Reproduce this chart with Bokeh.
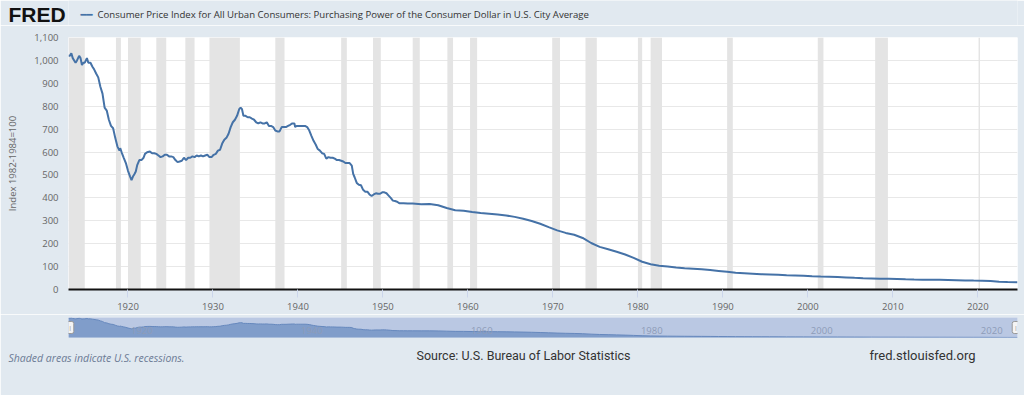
from bokeh.plotting import figure
from bokeh.models import Range1d, FixedTicker, NumeralTickFormatter, Label
from bokeh.layouts import column
from bokeh.embed import file_html
from bokeh.resources import INLINE
from bokeh.core.properties import value

# ---------------- data ----------------
TITLE = ("Consumer Price Index for All Urban Consumers: Purchasing Power of the "
         "Consumer Dollar in U.S. City Average")
Y_LABEL = "Index 1982-1984=100"
SOURCE = "Source: U.S. Bureau of Labor Statistics"
SITE = "fred.stlouisfed.org"
NOTE = "Shaded areas indicate U.S. recessions."
LOGO = "FRED"

dates = [
    "1913-01", "1913-03", "1913-05", "1913-07", "1913-09", "1913-11",
    "1914-01", "1914-04", "1914-06", "1914-08", "1914-10", "1914-12",
    "1915-03", "1915-05", "1915-08", "1915-11",
    "1916-01", "1916-04", "1916-07", "1916-10",
    "1917-01", "1917-04", "1917-07", "1917-10",
    "1918-01", "1918-04", "1918-07", "1918-10",
    "1919-01", "1919-02", "1919-04", "1919-07", "1919-10",
    "1920-01", "1920-04", "1920-06", "1920-08", "1920-10", "1920-12",
    "1921-02", "1921-05", "1921-08", "1921-11",
    "1922-01", "1922-04", "1922-08", "1922-11",
    "1923-02", "1923-05", "1923-08", "1923-11",
    "1924-02", "1924-05", "1924-08", "1924-11",
    "1925-02", "1925-05", "1925-08", "1925-11",
    "1926-02", "1926-05", "1926-08", "1926-11",
    "1927-02", "1927-05", "1927-08", "1927-11",
    "1928-02", "1928-05", "1928-08", "1928-11",
    "1929-02", "1929-05", "1929-08", "1929-11",
    "1930-02", "1930-05", "1930-08", "1930-11",
    "1931-02", "1931-05", "1931-08", "1931-11",
    "1932-02", "1932-05", "1932-08", "1932-11",
    "1933-02", "1933-04", "1933-06", "1933-08", "1933-11",
    "1934-02", "1934-05", "1934-08", "1934-11",
    "1935-02", "1935-05", "1935-08", "1935-11",
    "1936-02", "1936-05", "1936-08", "1936-11",
    "1937-02", "1937-05", "1937-08", "1937-11",
    "1938-02", "1938-05", "1938-08", "1938-11",
    "1939-02", "1939-05", "1939-08", "1939-09", "1939-11",
    "1940-02", "1940-05", "1940-08", "1940-11",
    "1941-02", "1941-05", "1941-08", "1941-11",
    "1942-02", "1942-05", "1942-08", "1942-11",
    "1943-02", "1943-05", "1943-08", "1943-11",
    "1944-02", "1944-05", "1944-08", "1944-11",
    "1945-02", "1945-05", "1945-08", "1945-11",
    "1946-02", "1946-05", "1946-07", "1946-09", "1946-12",
    "1947-03", "1947-06", "1947-09", "1947-12",
    "1948-03", "1948-06", "1948-09", "1948-12",
    "1949-03", "1949-06", "1949-09", "1949-12",
    "1950-03", "1950-06", "1950-09", "1950-12",
    "1951-03", "1951-06", "1951-09", "1951-12",
    "1952-06", "1952-12",
    "1953-07", "1954-07", "1955-07", "1956-07", "1957-07", "1958-07", "1959-07",
    "1960-07", "1961-07", "1962-07", "1963-07", "1964-07", "1965-07", "1966-07",
    "1967-07", "1968-07", "1969-07", "1970-07", "1971-07", "1972-07", "1973-07",
    "1974-07", "1975-07", "1976-07", "1977-07", "1978-07", "1979-07", "1980-07",
    "1981-07", "1982-07", "1983-07", "1984-07", "1985-07", "1986-07", "1987-07",
    "1988-07", "1989-07", "1990-07", "1991-07", "1992-07", "1993-07", "1994-07",
    "1995-07", "1996-07", "1997-07", "1998-07", "1999-07", "2000-07", "2001-07",
    "2002-07", "2003-07", "2004-07", "2005-07", "2006-07", "2007-07", "2008-07",
    "2009-07", "2010-07", "2011-07", "2012-07", "2013-07", "2014-07", "2015-07",
    "2016-07", "2017-07", "2018-07", "2019-07", "2020-07", "2021-07", "2022-07",
    "2023-07", "2024-09",
]
values = [
    1020, 1020, 1031, 1010, 1000, 990,
    1000, 1020, 1010, 980, 990, 990,
    1010, 990, 990, 971,
    962, 943, 926, 885,
    855, 794, 781, 741,
    714, 704, 662, 625,
    606, 617, 599, 575, 552,
    518, 493, 478, 493, 503, 515,
    543, 565, 565, 575,
    592, 599, 602, 595,
    595, 592, 585, 578,
    581, 588, 588, 581,
    581, 578, 565, 556,
    559, 562, 575, 565,
    575, 575, 581, 578,
    585, 581, 585, 581,
    585, 588, 578, 578,
    588, 592, 606, 610,
    637, 654, 662, 680,
    709, 730, 741, 758,
    787, 794, 787, 758, 758,
    752, 752, 746, 741,
    730, 725, 730, 725,
    725, 730, 714, 714,
    709, 694, 690, 690,
    709, 709, 709, 714,
    719, 725, 725, 709, 714,
    714, 714, 714, 714,
    709, 694, 671, 649,
    633, 613, 606, 595,
    592, 571, 578, 575,
    575, 571, 565, 565,
    562, 559, 552, 552,
    552, 541, 505, 490, 465,
    457, 455, 435, 427,
    427, 415, 408, 415,
    420, 418, 418, 424,
    424, 420, 410, 400,
    388, 386, 383, 377,
    377, 375,
    375, 372, 373, 368, 356, 346, 344,
    338, 334, 331, 327, 323, 317, 309,
    299, 287, 272, 258, 247, 239, 225,
    203, 186, 176, 165, 153, 138, 121,
    110, 104, 100, 96, 93, 91, 88,
    85, 81, 77, 73, 71, 69, 67,
    66, 64, 62, 61, 60, 58, 56.5,
    55.6, 54.3, 52.9, 51.2, 49.6, 48.2, 46.4,
    46.6, 45.9, 44.5, 43.6, 42.9, 42.2, 42.2,
    41.7, 40.8, 39.8, 39.1, 38.6, 36.9, 34.2,
    32.8, 31.8,
]

rec_start = ["1913-01", "1918-08", "1920-01", "1923-05", "1926-10", "1929-08",
             "1937-05", "1945-02", "1948-11", "1953-07", "1957-08", "1960-04",
             "1969-12", "1973-11", "1980-01", "1981-07", "1990-07", "2001-03",
             "2007-12", "2020-02"]
rec_end = ["1914-12", "1919-03", "1921-07", "1924-07", "1927-11", "1933-03",
           "1938-06", "1945-10", "1949-10", "1954-05", "1958-04", "1961-02",
           "1970-11", "1975-03", "1980-07", "1982-11", "1991-03", "2001-11",
           "2009-06", "2020-04"]

x_ticks = [1920, 1930, 1940, 1950, 1960, 1970, 1980, 1990, 2000, 2010, 2020]
y_ticks = [0, 100, 200, 300, 400, 500, 600, 700, 800, 900, 1000, 1100]
nav_ticks = [1920, 1940, 1960, 1980, 2000, 2020]


def dec(s):
    y, m = s.split("-")
    return int(y) + (int(m) - 1) / 12.0


xs = [dec(d) for d in dates]
rs = [dec(d) for d in rec_start]
re_ = [dec(d) for d in rec_end]

# ---------------- style ----------------
BG = "#e1e9f0"
LINE = "#4572a7"
FONT = "Open Sans"
FOOT = "Roboto"
W = 1024
COMMON = dict(width=W, output_backend="svg", toolbar_location=None,
              min_border_left=68, min_border_right=7,
              border_fill_color=BG, outline_line_color=None)

xr = Range1d(xs[0], xs[-1])

# ---------------- header (logo + legend key) ----------------
p0 = figure(height=25, x_axis_location=None, y_axis_location=None,
            min_border_top=0, min_border_bottom=0,
            background_fill_color=BG, **COMMON)
p0.grid.visible = False
p0.add_layout(Label(x=-3, y=11.5, x_units="screen", y_units="screen",
                    text=LOGO, text_font="Liberation Sans",
                    text_font_style="bold", text_font_size="21px",
                    text_color="#111111", text_baseline="middle",
                    text_align="left"), "left")
p0.add_layout(Label(x=18, y=11, x_units="screen", y_units="screen",
                    text="\u2501\u2501", text_font="DejaVu Sans",
                    text_font_size="10px", text_color=LINE,
                    text_baseline="middle", text_align="center"))
p0.add_layout(Label(x=29, y=11, x_units="screen", y_units="screen",
                    text=TITLE, text_font=FONT, text_font_size="9.6px",
                    text_color="#333333", text_baseline="middle",
                    text_align="left"))

# ---------------- main chart ----------------
p = figure(height=289, x_range=xr, y_range=Range1d(0, 1100),
           min_border_top=12, min_border_bottom=25,
           background_fill_color="white", **COMMON)

p.quad(left=rs, right=re_, bottom=0, top=1100, fill_color="#e4e4e4",
       line_color=None)
p.line(xs, values, line_color=LINE, line_width=2)

p.xgrid.visible = False
p.ygrid.ticker = FixedTicker(ticks=y_ticks)
p.ygrid.grid_line_color = "#e8e8e8"

p.yaxis.ticker = FixedTicker(ticks=y_ticks)
p.yaxis.formatter = NumeralTickFormatter(format="0,0")
p.yaxis.axis_line_color = None
p.yaxis.major_tick_out = 0
p.yaxis.major_tick_in = 0
p.yaxis.minor_tick_line_color = None
p.yaxis.major_label_standoff = 10
p.yaxis.major_label_text_font = FONT
p.yaxis.major_label_text_font_size = "9.5px"
p.yaxis.major_label_text_color = "#666666"
p.yaxis.axis_label = Y_LABEL
p.yaxis.axis_label_standoff = 12
p.yaxis.axis_label_text_font = FONT
p.yaxis.axis_label_text_font_style = "normal"
p.yaxis.axis_label_text_font_size = "9.5px"
p.yaxis.axis_label_text_color = "#666666"

p.xaxis.ticker = FixedTicker(ticks=x_ticks)
p.xaxis.axis_line_color = "#111111"
p.xaxis.axis_line_width = 2
p.xaxis.major_tick_out = 8
p.xaxis.major_tick_in = 0
p.xaxis.major_tick_line_color = "#ccd6eb"
p.xaxis.minor_tick_line_color = None
p.xaxis.major_label_standoff = 5
p.xaxis.major_label_text_font = FONT
p.xaxis.major_label_text_font_size = "9.5px"
p.xaxis.major_label_text_color = "#666666"

# ---------------- navigator + footer ----------------
nav_lo, nav_hi = 30, 1060
p2 = figure(height=81, x_range=xr, y_range=Range1d(nav_lo, nav_hi),
            x_axis_location=None, y_axis_location=None,
            min_border_top=3, min_border_bottom=58,
            background_fill_color="#bac8e3", **COMMON)
p2.grid.visible = False
p2.varea(x=xs, y1=0, y2=values, fill_color="#809dca", fill_alpha=1)
p2.line(xs, values, line_color="#6688bd", line_width=1)
p2.text(x=nav_ticks, y=[nav_lo] * len(nav_ticks),
        text=[str(t) for t in nav_ticks], x_offset=3, y_offset=-7,
        text_font=value(FONT), text_font_size="9.5px", text_color="#8e9cb8",
        text_baseline="middle", text_align="left")
for hx in (xs[0], xs[-1]):
    p2.add_layout(Label(x=hx, y=10, x_units="data", y_units="screen",
                        text="||", text_font=FONT, text_font_size="6px",
                        text_color="#777777", text_align="center",
                        text_baseline="middle", padding=2,
                        background_fill_color="#f4f4f4",
                        border_line_color="#999999", border_radius=2))

# footer texts sit in the "below" side panel (stacked under the navigator)
p2.add_layout(Label(x=-60, y=-6.5, x_units="screen", y_units="screen",
                    text=NOTE, text_font=FONT, text_font_style="italic",
                    text_font_size="10.5px", text_color="#6c7b95",
                    text_baseline="middle", text_align="left"), "below")
p2.add_layout(Label(x=455, y=11, x_units="screen", y_units="screen",
                    text=SOURCE, text_font=FOOT,
                    text_font_size="12.5px", text_color="#333333",
                    text_baseline="middle", text_align="center"), "below")
p2.add_layout(Label(x=854, y=26, x_units="screen", y_units="screen",
                    text=SITE, text_font=FOOT,
                    text_font_size="13px", text_color="#333333",
                    text_baseline="middle", text_align="center"), "below")

layout = column(p0, p, p2, spacing=0)
html = file_html(layout, INLINE)
html = html.replace("<body>", '<body style="background-color:%s;">' % BG, 1)
open("out.html", "w").write(html)
